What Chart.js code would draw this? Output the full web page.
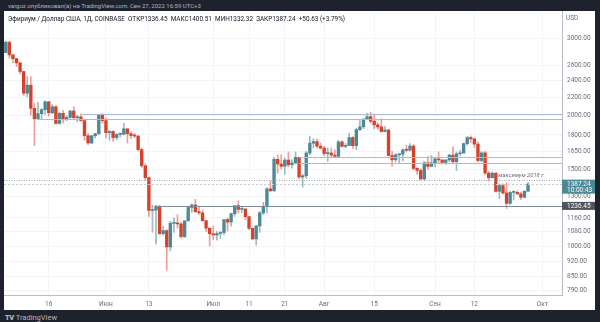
<!DOCTYPE html>
<html>
<head>
<meta charset="utf-8">
<script src="https://cdn.jsdelivr.net/npm/chart.js@4.4.0/dist/chart.umd.min.js"></script>
<style>
  body { margin: 0; width: 600px; height: 322px; overflow: hidden; background: #1e222d; position: relative;
         font-family: Roboto, "Liberation Sans", sans-serif; }
  #hdr { position: absolute; left: 8px; top: 1px; font-size: 6px; line-height: 9px; color: #b2b5be; white-space: nowrap; }
  #panel { position: absolute; left: 4px; top: 11px; width: 591px; height: 299px; background: #fff; }
  #panel canvas { position: absolute; left: 0; top: 0; }
  #legend { position: absolute; left: 4px; top: 4px; font-size: 6.4px; color: #131722; white-space: pre; }
  #usd { position: absolute; left: 562px; top: 3px; font-size: 6.5px; color: #6a6d78; }
  #tv { position: absolute; left: 5px; top: 313px; font-size: 7.5px; color: #b2b5be; white-space: nowrap; }
  #tv b { font-weight: 900; letter-spacing: -0.5px; margin-right: 2px; }
</style>
</head>
<body>
<div id="hdr">vargoz опубликовал(а) на TradingView.com, Сен 27, 2022 16:59 UTC+3</div>
<div id="panel">
  <canvas id="chart" width="591" height="299"></canvas>
  <div id="legend">Эфириум / Доллар США, 1Д, COINBASE  ОТКР1336.45  МАКС1400.51  МИН1332.32  ЗАКР1387.24  +50.63 (+3.79%)</div>
  <div id="usd">USD</div>
</div>
<div id="tv"><b>TV</b>TradingView</div>
<script>
// дневные свечи ETH/USD, 4 мая – 27 сен 2022
const startDay = "2022-05-04";
const totalSlots = 156; // 147 свечей + пустое место справа

const opens = [
  2782,2940,2749,2695,2636,2518,2245,2342,2072,1960,2014,2057,2145,2023,2090,1913,2018,1960,1975,2043,1972,1980,1942,1793,1725,1792,1812,1996,
  1942,1822,1833,1775,1805,1806,1859,1812,1794,1789,1665,1529,1436,1207,1209,1234,1068,1085,995,1127,1128,1124,1051,1143,1226,1243,1199,1192,1143,1099,
  1067,1060,1068,1074,1150,1135,1186,1238,1214,1216,1168,1098,1038,1112,1192,1234,1353,1339,1582,1543,1525,1576,1537,1552,1599,1440,1450,1636,1723,1738,1696,
  1679,1631,1635,1618,1607,1735,1694,1701,1775,1701,1851,1879,1958,1983,1935,1899,1878,1833,1848,1614,1578,1620,1626,1663,1660,1697,1508,1492,1425,1553,1524,
  1553,1586,1577,1556,1577,1617,1562,1629,1636,1719,1775,1763,1715,1572,1637,1471,1435,1470,1335,1377,1324,1253,1328,1328,1317,1294,1336.45
];
const highs = [
  2958,2953,2760,2700,2640,2520,2450,2450,2130,2140,2070,2155,2150,2115,2100,2030,2050,1990,2050,2090,2000,2010,1955,1813,1795,1815,2005,2015,
  1970,1845,1840,1810,1820,1915,1860,1830,1815,1795,1680,1545,1440,1240,1240,1240,1110,1090,1140,1160,1180,1135,1140,1235,1250,1280,1235,1210,1145,1100,
  1110,1080,1080,1152,1160,1190,1240,1270,1228,1220,1170,1100,1115,1200,1260,1360,1410,1600,1620,1620,1595,1645,1580,1645,1602,1462,1650,1785,1765,1760,1725,
  1695,1680,1680,1665,1750,1745,1720,1815,1785,1865,1945,1960,2020,2030,2010,1920,1960,1885,1850,1650,1630,1630,1670,1705,1720,1710,1515,1505,1565,1605,1615,
  1595,1645,1580,1580,1625,1690,1645,1660,1725,1785,1790,1770,1735,1650,1650,1485,1480,1475,1390,1390,1395,1335,1340,1340,1330,1340,1400.51
];
const lows = [
  2780,2705,2640,2585,2485,2220,2200,2000,1700,1955,1950,2005,1990,2015,1905,1905,1915,1940,1965,1960,1930,1935,1750,1710,1720,1770,1800,1915,
  1770,1750,1740,1755,1780,1800,1725,1765,1775,1655,1515,1420,1170,1075,1010,1063,1060,880,975,1075,1100,1045,1045,1140,1195,1195,1180,1140,1080,1000,
  1035,1032,1040,1060,1082,1110,1170,1190,1195,1150,1090,1035,1005,1075,1180,1190,1335,1335,1470,1505,1460,1520,1510,1545,1430,1365,1430,1620,1680,1680,1670,
  1610,1565,1600,1595,1605,1690,1680,1700,1675,1665,1840,1860,1955,1920,1860,1855,1825,1830,1610,1525,1560,1550,1570,1645,1655,1495,1460,1425,1420,1500,1520,
  1520,1555,1545,1540,1565,1555,1490,1610,1633,1705,1730,1685,1560,1560,1460,1410,1435,1330,1285,1315,1220,1245,1275,1315,1280,1290,1332.32
];
const closes = [
  2940,2749,2695,2636,2518,2245,2342,2072,1960,2014,2057,2145,2023,2090,1913,2018,1960,1975,2043,1972,1980,1942,1793,1725,1792,1812,1996,1942,
  1822,1833,1775,1805,1806,1859,1812,1794,1789,1665,1529,1436,1207,1209,1234,1068,1085,995,1127,1128,1124,1051,1143,1226,1243,1199,1192,1143,1099,1067,
  1060,1068,1074,1150,1135,1186,1238,1214,1216,1168,1098,1038,1112,1192,1234,1353,1339,1582,1543,1525,1576,1537,1552,1599,1440,1450,1636,1723,1738,1696,1679,
  1631,1635,1618,1607,1735,1694,1701,1775,1701,1851,1879,1958,1983,1935,1899,1878,1833,1848,1614,1578,1620,1626,1663,1660,1697,1508,1492,1425,1553,1524,1553,
  1586,1577,1556,1577,1617,1562,1629,1636,1719,1775,1763,1715,1572,1637,1471,1435,1470,1335,1377,1324,1253,1328,1328,1317,1294,1336,1387.24
];

// подписи оси времени
const xTickDates  = ["2022-05-16","2022-06-01","2022-06-13","2022-07-01","2022-07-11","2022-07-21","2022-08-01","2022-08-15","2022-09-01","2022-09-12","2022-10-01"];
const xTickLabels = ["16","Июн","13","Июл","11","21","Авг","15","Сен","12","Окт"];
// ценовая шкала
const yTicks = [3000,2600,2400,2200,2000,1800,1650,1500,1300,1160,1080,1000,920,850,790];

// горизонтальные уровни (рисунки автора)
const levels     = [2007, 1955, 1599, 1549, 1236.45, 1420, 1387.24];
const levelStart = ["2022-05-25","2022-05-13","2022-07-25","2022-07-25","2022-06-15", null, null];

const lastPrice = 1387.24;
const lastTimer = "10:00:43";

const labels = [];
for (let i = 0; i < totalSlots; i++) {
  const d = new Date(Date.parse(startDay) + i * 864e5);
  labels.push(d.toISOString().slice(0, 10));
}

const UP = "#4a8995", DOWN = "#d6412c";
const UPW = "#9fb9bf", DOWNW = "#eb9f97";
const isUp = closes.map((c, i) => c >= opens[i]);

const lineStyle = [
  { color: "#a9bbdc", dash: [] },
  { color: "#a9bbdc", dash: [] },
  { color: "#a9bbdc", dash: [] },
  { color: "#a9bbdc", dash: [] },
  { color: "#7d8896", dash: [] },
  { color: "#9a9ea8", dash: [1, 1.5] },
  { color: "#c5ccd2", dash: [2, 2] }
];

const overlay = {
  id: "overlay",
  afterDatasetsDraw(chart) {
    const { ctx, chartArea: a, scales: { x, y } } = chart;
    ctx.save();
    ctx.beginPath();
    ctx.rect(a.left, a.top, a.width, a.height);
    ctx.clip();
    levels.forEach((v, i) => {
      const py = Math.round(y.getPixelForValue(v)) + 0.5;
      const px = levelStart[i] ? x.getPixelForValue(labels.indexOf(levelStart[i])) : a.left;
      ctx.strokeStyle = lineStyle[i].color;
      ctx.setLineDash(lineStyle[i].dash);
      ctx.lineWidth = 1;
      ctx.beginPath();
      ctx.moveTo(px, py);
      ctx.lineTo(a.right, py);
      ctx.stroke();
    });
    ctx.setLineDash([]);
    ctx.fillStyle = "#6a6d78";
    ctx.font = "italic 5.8px Roboto, sans-serif";
    ctx.textAlign = "right";
    ctx.textBaseline = "bottom";
    ctx.fillText("максимум 2018 г.", a.right - 17, y.getPixelForValue(1420) - 1);
    ctx.restore();
  },
  afterDraw(chart) {
    const { ctx, chartArea: a, scales: { y } } = chart;
    const w = chart.width;
    ctx.save();
    ctx.font = "6.5px Roboto, sans-serif";
    ctx.textBaseline = "middle";
    ctx.textAlign = "left";
    // уровень 1236.45
    let py = y.getPixelForValue(1236.45);
    ctx.fillStyle = "#50535e";
    ctx.fillRect(a.right, py - 4, w - a.right, 8);
    ctx.fillStyle = "#fff";
    ctx.fillText("1236.45", a.right + 5, py);
    // последняя цена
    py = y.getPixelForValue(lastPrice);
    ctx.fillStyle = "#4a8995";
    ctx.fillRect(a.right, py - 4.5, w - a.right, 14);
    ctx.fillStyle = "#fff";
    ctx.fillText(lastPrice.toFixed(2), a.right + 5, py);
    ctx.fillText(lastTimer, a.right + 5, py + 6);
    ctx.restore();
  }
};

new Chart(document.getElementById("chart"), {
  type: "bar",
  data: {
    labels: labels,
    datasets: [
      {
        data: lows.map((l, i) => [l, highs[i]]),
        backgroundColor: isUp.map(u => u ? UPW : DOWNW),
        barThickness: 1,
        grouped: false,
        order: 2
      },
      {
        data: opens.map((o, i) => [o, closes[i]]),
        backgroundColor: isUp.map(u => u ? UP : DOWN),
        barThickness: 2.7,
        minBarLength: 1,
        grouped: false,
        order: 1
      }
    ]
  },
  options: {
    responsive: false,
    animation: false,
    layout: { padding: 0 },
    plugins: { legend: { display: false }, tooltip: { enabled: false } },
    scales: {
      x: {
        type: "category",
        offset: true,
        grid: { color: "#f2f4f8", offset: false, drawTicks: false },
        border: { color: "#b8bcc5" },
        ticks: {
          autoSkip: false, maxRotation: 0, padding: 5,
          color: "#6a6d78", font: { size: 6.5, family: "Roboto" },
          callback: v => xTickLabels[xTickDates.indexOf(labels[v])]
        },
        afterBuildTicks: s => {
          s.ticks = xTickDates.map(d => ({ value: labels.indexOf(d) }));
        },
        afterFit: s => { s.height = 15; s.paddingLeft = 0; s.paddingRight = 0; }
      },
      y: {
        type: "logarithmic",
        position: "right",
        min: 771.6,
        max: 3468,
        grid: { color: "#f2f4f8", drawTicks: false },
        border: { color: "#b8bcc5" },
        ticks: {
          autoSkip: false, padding: 5,
          color: "#6a6d78", font: { size: 6.5, family: "Roboto" },
          callback: v => Number(v).toFixed(2)
        },
        afterBuildTicks: s => {
          s.ticks = yTicks.map(v => ({ value: v }));
        },
        afterFit: s => { s.width = 33; s.paddingTop = 0; s.paddingBottom = 0; }
      }
    }
  },
  plugins: [overlay]
});
</script>
</body>
</html>
